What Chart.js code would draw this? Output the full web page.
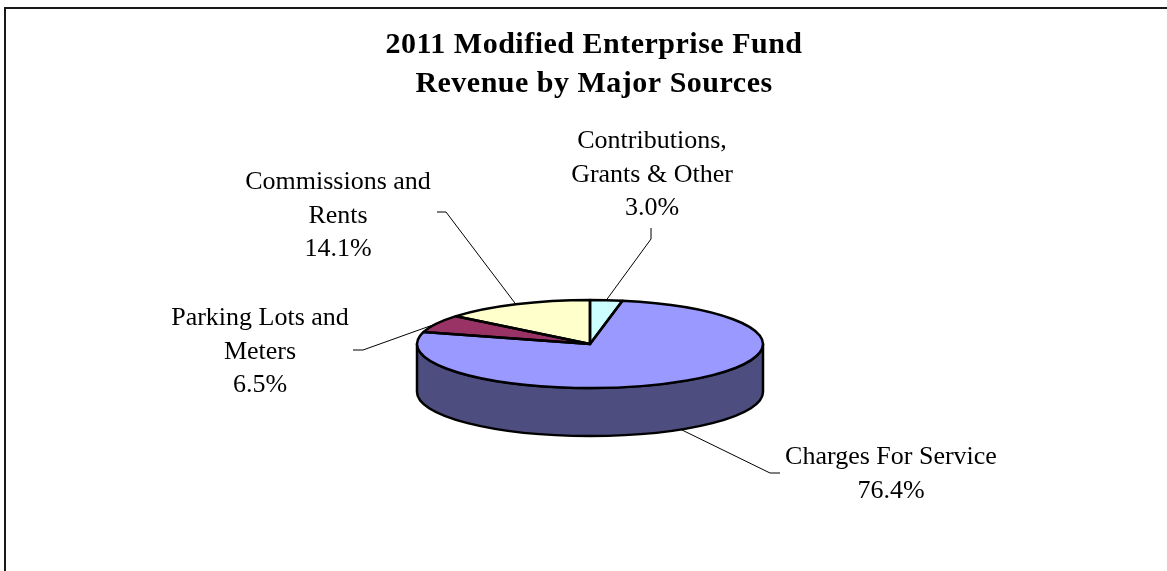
<!DOCTYPE html>
<html>
<head>
<meta charset="utf-8">
<title>2011 Modified Enterprise Fund</title>
<script src="https://cdn.jsdelivr.net/npm/chart.js@4.4.0/dist/chart.umd.min.js"></script>
<style>
  html, body { margin: 0; padding: 0; background: #fff; }
</style>
</head>
<body>
<canvas id="graficoFondos" width="1167" height="571"></canvas>
<script>
/* ---------- Data ---------- */
const titleLines   = ["2011 Modified Enterprise Fund", "Revenue by Major Sources"];
const categories   = [
  ["Contributions,", "Grants & Other"],
  ["Charges For Service"],
  ["Parking Lots and", "Meters"],
  ["Commissions and", "Rents"]
];
const revenueShare = [3.0, 76.4, 6.5, 14.1];   // percent of total revenue
const sliceColors  = ["#CCFFFF", "#9999FF", "#993366", "#FFFFCC"];

/* ---------- Look ---------- */
const TILT  = 44 / 173;     // top face squashed into an ellipse
const DEPTH = 48;           // height of the pie wall
const SERIF = '"Liberation Serif", "Times New Roman", serif';

// where each label sits + its leader line (elbow, end)
const labelLayout = [
  { x: 652, y: 148, elbow: [651, 239], end: [651, 228] },
  { x: 891, y: 464, elbow: [770, 473], end: [780, 473] },
  { x: 260, y: 325, elbow: [363, 350], end: [353, 350] },
  { x: 338, y: 189, elbow: [446, 212], end: [437, 212] }
];

function darken(hex) {
  const n = parseInt(hex.slice(1), 16);
  const r = (n >> 16) & 255, g = (n >> 8) & 255, b = n & 255;
  return `rgb(${Math.round(r * 0.5)},${Math.round(g * 0.5)},${Math.round(b * 0.5)})`;
}

// visible part of the wall = front half of the ellipse (0..PI)
function frontPart(a0, a1) {
  const s = Math.max(a0, 0), e = Math.min(a1, Math.PI);
  return s < e ? [s, e] : null;
}

function pieGeom(chart) {
  const arcs = chart.getDatasetMeta(0).data;
  const rx = arcs[0].outerRadius;
  return { arcs, cx: arcs[0].x, cy: arcs[0].y, rx, ry: rx * TILT };
}

/* ---------- 3D pie plugin ---------- */
const pie3d = {
  id: "pie3d",
  beforeDatasetsDraw(chart) {
    const ctx = chart.ctx;
    const { arcs, cx, cy, rx, ry } = pieGeom(chart);

    arcs.forEach((arc, i) => {
      const seg = frontPart(arc.startAngle, arc.endAngle);
      if (!seg) return;
      ctx.save();
      ctx.beginPath();
      ctx.ellipse(cx, cy, rx, ry, 0, seg[0], seg[1]);
      ctx.ellipse(cx, cy + DEPTH, rx, ry, 0, seg[1], seg[0], true);
      ctx.closePath();
      ctx.fillStyle = darken(sliceColors[i]);
      ctx.fill();
      ctx.lineWidth = 2.5;
      ctx.lineJoin = "round";
      ctx.strokeStyle = "#000";
      ctx.stroke();
      ctx.restore();
    });

    // chart.js draws the slices, we just squash them
    ctx.save();
    ctx.translate(cx, cy);
    ctx.scale(1, TILT);
    ctx.translate(-cx, -cy);
  },
  afterDatasetsDraw(chart) {
    const ctx = chart.ctx;
    ctx.restore();

    const { arcs, cx, cy, rx, ry } = pieGeom(chart);
    ctx.save();
    ctx.lineWidth = 2.5;
    ctx.lineJoin = "round";
    ctx.strokeStyle = "#000";
    arcs.forEach(arc => {
      ctx.beginPath();
      ctx.moveTo(cx, cy);
      ctx.ellipse(cx, cy, rx, ry, 0, arc.startAngle, arc.endAngle);
      ctx.closePath();
      ctx.stroke();
    });
    ctx.restore();
  },
  afterDraw(chart) {
    const ctx = chart.ctx;
    const { arcs, cx, cy, rx, ry } = pieGeom(chart);
    const total = revenueShare.reduce((a, b) => a + b, 0);

    ctx.save();

    // frame
    ctx.strokeStyle = "#1a1a1a";
    ctx.lineWidth = 2;
    ctx.strokeRect(5, 8, 1300, 700);

    // title
    ctx.fillStyle = "#000";
    ctx.textAlign = "center";
    ctx.textBaseline = "alphabetic";
    ctx.font = `bold 30px ${SERIF}`;
    if ("letterSpacing" in ctx) ctx.letterSpacing = "0.5px";
    ctx.fillText(titleLines[0], 594, 53);
    ctx.fillText(titleLines[1], 594, 92);
    if ("letterSpacing" in ctx) ctx.letterSpacing = "0px";

    // leader lines + labels
    ctx.font = `26px ${SERIF}`;
    ctx.lineWidth = 1;
    ctx.strokeStyle = "#000";
    arcs.forEach((arc, i) => {
      const mid = (arc.startAngle + arc.endAngle) / 2;
      let ax = cx + rx * Math.cos(mid);
      let ay = cy + ry * Math.sin(mid);
      if (Math.sin(mid) > 0.2) ay += DEPTH;   // front slices: hook onto the wall
      const L = labelLayout[i];

      ctx.beginPath();
      ctx.moveTo(ax, ay);
      ctx.lineTo(L.elbow[0], L.elbow[1]);
      ctx.lineTo(L.end[0], L.end[1]);
      ctx.stroke();

      const lines = categories[i].concat([(revenueShare[i] / total * 100).toFixed(1) + "%"]);
      lines.forEach((t, k) => ctx.fillText(t, L.x, L.y + k * 33.5));
    });

    ctx.restore();
  }
};

/* ---------- Chart ---------- */
new Chart(document.getElementById("graficoFondos"), {
  type: "pie",
  data: {
    labels: categories,
    datasets: [{
      data: revenueShare,
      backgroundColor: sliceColors,
      borderWidth: 0
    }]
  },
  options: {
    responsive: false,
    animation: false,
    rotation: 0,
    layout: { padding: { left: 417, right: 404, top: 171, bottom: 54 } },
    plugins: {
      legend: { display: false },
      title: { display: false },
      tooltip: { enabled: false }
    }
  },
  plugins: [pie3d]
});
</script>
</body>
</html>
